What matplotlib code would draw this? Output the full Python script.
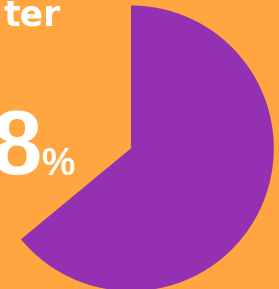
import matplotlib
matplotlib.use("Agg")
import matplotlib.pyplot as plt

# Data
slice_labels = ["Highlighted", "Rest"]
slice_values = [64, 36]
title_fragment = "ter"
value_text = "8"
percent_sign = "%"

BG = "#FFA640"
PURPLE = "#9331B2"

W, H = 279, 289
fig = plt.figure(figsize=(W / 100, H / 100), dpi=100, facecolor=BG)
ax = fig.add_axes([0, 0, 1, 1])
ax.set_facecolor(BG)

ax.pie(slice_values, colors=[PURPLE, "none"], startangle=90, counterclock=False,
       center=(131, H - 148.3), radius=142.8, frame=True,
       wedgeprops=dict(linewidth=0))
ax.set_xlim(0, W)
ax.set_ylim(0, H)
ax.axis("off")

font = "Liberation Sans"
ax.text(61, H - 26, title_fragment, color="white", fontsize=25, fontweight="bold",
        family="DejaVu Sans", ha="right", va="baseline")
ax.text(41, H - 174, value_text, color="white", fontsize=65, fontweight="bold",
        family=font, ha="right", va="baseline")
ax.text(41, H - 175, percent_sign, color="white", fontsize=27, fontweight="bold",
        family=font, ha="left", va="baseline")

fig.savefig("out.png", dpi=100, facecolor=BG)
